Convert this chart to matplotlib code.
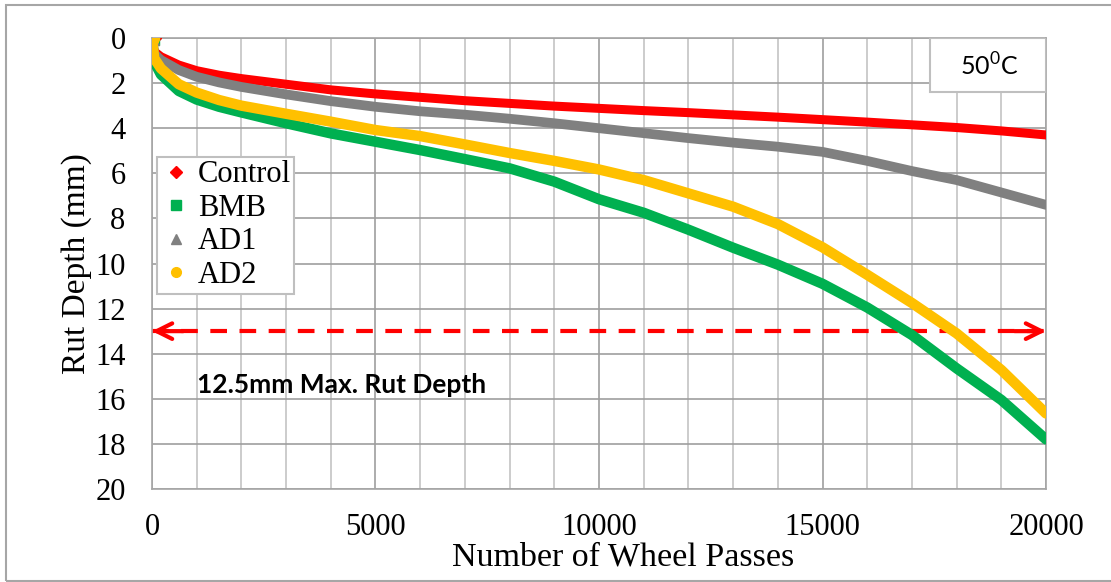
import matplotlib.pyplot as plt
from matplotlib.lines import Line2D
from matplotlib.patches import Rectangle
from matplotlib.ticker import MultipleLocator

# wheel tracking results at 50 C
passes = [0, 50, 200, 600, 1000, 1500, 2000, 3000, 4000, 5000, 6000, 7000,
          8000, 9000, 10000, 11000, 12000, 13000, 14000, 15000, 16000, 17000,
          18000, 19000, 20000]
control = [0, 0.6, 0.83, 1.2, 1.45, 1.65, 1.8, 2.05, 2.3, 2.48, 2.63, 2.78,
           2.9, 3.02, 3.12, 3.22, 3.31, 3.41, 3.51, 3.62, 3.73, 3.85, 3.97,
           4.12, 4.3]
bmb = [0, 1.05, 1.62, 2.35, 2.73, 3.05, 3.3, 3.78, 4.23, 4.6, 4.97, 5.37,
       5.78, 6.37, 7.15, 7.75, 8.5, 9.3, 10.05, 10.9, 11.95, 13.17, 14.65,
       16.05, 17.8]
ad1 = [0, 0.7, 0.98, 1.42, 1.72, 1.97, 2.17, 2.5, 2.8, 3.05, 3.25, 3.4,
       3.58, 3.78, 4.0, 4.22, 4.44, 4.64, 4.82, 5.05, 5.45, 5.9, 6.3, 6.85,
       7.4]
ad2 = [0, 0.9, 1.35, 2.05, 2.42, 2.75, 3.0, 3.36, 3.71, 4.08, 4.35, 4.72,
       5.1, 5.45, 5.83, 6.3, 6.89, 7.48, 8.25, 9.28, 10.5, 11.75, 13.1,
       14.72, 16.65]
max_rut = 13

serif = 'Liberation Serif'

fig = plt.figure(figsize=(11.11, 5.82), dpi=100)
ax = fig.add_axes([0.1368, 0.1598, 0.8047, 0.7749])

series = [
    ('Control', control, '#FF0000', 'D', 6.5, 6),
    ('BMB', bmb, '#00B050', 's', 7.5, 7),
    ('AD1', ad1, '#808080', '^', 7, 7),
    ('AD2', ad2, '#FFC000', 'o', 7.5, 7),
]
for name, vals, col, mk, lw, ms in series:
    ax.plot(passes, vals, color=col, lw=lw, solid_capstyle='round',
            solid_joinstyle='round', zorder=3)
    ax.plot(passes[0], vals[0], marker=mk, color=col, ms=ms + 3, zorder=3)

ax.set_xlim(0, 20000)
ax.set_ylim(20, 0)
ax.xaxis.set_major_locator(MultipleLocator(5000))
ax.xaxis.set_minor_locator(MultipleLocator(1000))
ax.yaxis.set_major_locator(MultipleLocator(2))
ax.grid(which='major', color='#9e9e9e', lw=1.2)
ax.grid(which='minor', axis='x', color='#c4c4c4', lw=1.2)
ax.set_axisbelow(True)
for s in ax.spines.values():
    s.set_color('#a6a6a6')
    s.set_linewidth(1.2)
ax.tick_params(which='both', length=0)
ax.tick_params(axis='x', pad=17)
ax.tick_params(axis='y', pad=19)
for lab in ax.get_xticklabels() + ax.get_yticklabels():
    lab.set_fontfamily(serif)
    lab.set_fontsize(22)

ax.set_xlabel('Number of Wheel Passes', family=serif, fontsize=24.5)
ax.xaxis.set_label_coords(0.527, -0.118)
ax.set_ylabel('Rut Depth (mm)', family=serif, fontsize=24, labelpad=2)

# 12.5 mm limit line with open arrow heads
ax.plot([0, 20000], [max_rut, max_rut], color='#FF0000', lw=3,
        dashes=(4, 3), zorder=2)
for tip, tail in [(0, 700), (20000, 19300)]:
    ax.annotate('', xy=(tip, max_rut), xytext=(tail, max_rut),
                arrowprops=dict(arrowstyle='->', color='#FF0000', lw=3,
                                mutation_scale=28, shrinkA=0, shrinkB=0))
ax.text(1000, 15.4, '12.5mm Max. Rut Depth', family='Lato',
        fontweight='bold', fontsize=19, va='center', ha='left')

# temperature tag in the top right corner
ax.add_patch(Rectangle((17405, 0), 2595, 2.4, fc='white', ec='#bfbfbf',
                       lw=1.5, zorder=4))
ax.text(18736, 1.25, r'50$^{\mathregular{0}}$C', family='Lato', fontsize=18,
        ha='center', va='center', zorder=5)

handles = [Line2D([], [], ls='none', marker=mk, color=col, ms=ms)
           for name, vals, col, mk, lw, ms in series]
leg = ax.legend(handles, [s[0] for s in series], loc='upper left',
                bbox_to_anchor=(0.006, 0.737), prop={'family': serif, 'size': 22},
                frameon=True, fancybox=False, framealpha=1, edgecolor='#bfbfbf',
                handlelength=1.0, handletextpad=0.2, labelspacing=0.15,
                borderpad=0.12, borderaxespad=0)
leg.get_frame().set_linewidth(1.5)

# chart border (right side falls outside the image)
fig.patches.append(Rectangle((6 / 1111, 1 / 582), 1.1, 576 / 582,
                             transform=fig.transFigure, fill=False,
                             ec='#a6a6a6', lw=1.5))

fig.savefig('out.png', dpi=100)
